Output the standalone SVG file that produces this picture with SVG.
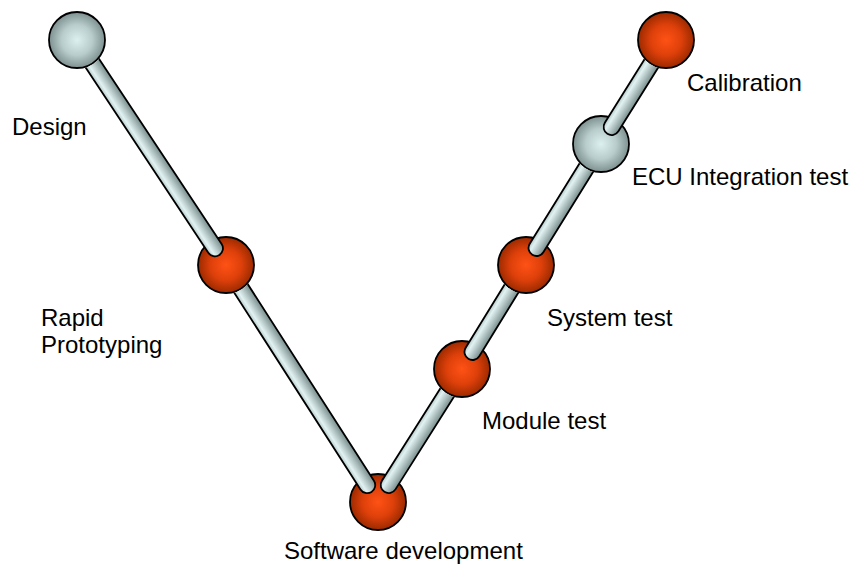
<svg xmlns="http://www.w3.org/2000/svg" width="850" height="564" viewBox="0 0 850 564">
  <style>
    .label { font-family: "Liberation Sans", Arial, sans-serif; font-size: 24px; fill: #000; }
    .ball { stroke: #000; stroke-width: 1.8; }
    .orange { fill: url(#gOrange); }
    .grey { fill: url(#gGrey); }
    .tube { fill: url(#gTube); stroke: #000; stroke-width: 1.8; }
  </style>
  <defs>
    <radialGradient id="gOrange" cx="50%" cy="50%" r="50%">
      <stop offset="0" stop-color="#ff5216"/>
      <stop offset="0.55" stop-color="#de400a"/>
      <stop offset="1" stop-color="#9c2a00"/>
    </radialGradient>
    <radialGradient id="gGrey" cx="50%" cy="50%" r="50%">
      <stop offset="0" stop-color="#dcf0f0"/>
      <stop offset="0.55" stop-color="#b8cccc"/>
      <stop offset="1" stop-color="#7e9090"/>
    </radialGradient>
    <linearGradient id="gTube" x1="0" y1="0" x2="0" y2="1">
      <stop offset="0" stop-color="#b4c8c8"/>
      <stop offset="0.25" stop-color="#e2f2f2"/>
      <stop offset="1" stop-color="#7a8e8e"/>
    </linearGradient>
    <!-- each tube slides under the ball at its upper end -->
    <mask id="mRapid" maskUnits="userSpaceOnUse" x="0" y="0" width="850" height="564">
      <rect width="850" height="564" fill="#fff"/><circle cx="226" cy="265" r="28.9" fill="#000"/>
    </mask>
    <mask id="mModule" maskUnits="userSpaceOnUse" x="0" y="0" width="850" height="564">
      <rect width="850" height="564" fill="#fff"/><circle cx="462" cy="369" r="28.9" fill="#000"/>
    </mask>
    <mask id="mSystem" maskUnits="userSpaceOnUse" x="0" y="0" width="850" height="564">
      <rect width="850" height="564" fill="#fff"/><circle cx="526" cy="265" r="28.9" fill="#000"/>
    </mask>
    <mask id="mEcu" maskUnits="userSpaceOnUse" x="0" y="0" width="850" height="564">
      <rect width="850" height="564" fill="#fff"/><circle cx="601" cy="144" r="28.9" fill="#000"/>
    </mask>
    <mask id="mCal" maskUnits="userSpaceOnUse" x="0" y="0" width="850" height="564">
      <rect width="850" height="564" fill="#fff"/><circle cx="666" cy="40" r="28.9" fill="#000"/>
    </mask>
    <mask id="mDesign" maskUnits="userSpaceOnUse" x="0" y="0" width="850" height="564">
      <rect width="850" height="564" fill="#fff"/><circle cx="77" cy="40" r="28.9" fill="#000"/>
    </mask>
  </defs>

  <!-- stages -->
  <g id="design">
    <circle class="ball grey" cx="77" cy="40" r="28"/>
    <text class="label" x="12" y="135">Design</text>
  </g>
  <g id="rapid-prototyping">
    <circle class="ball orange" cx="226" cy="265" r="28"/>
    <text class="label" x="41" y="326">Rapid</text>
    <text class="label" x="41" y="353">Prototyping</text>
  </g>
  <g id="software-development">
    <circle class="ball orange" cx="378" cy="502" r="28"/>
    <text class="label" x="284" y="559">Software development</text>
  </g>
  <g id="module-test">
    <circle class="ball orange" cx="462" cy="369" r="28"/>
    <text class="label" x="482" y="429">Module test</text>
  </g>
  <g id="system-test">
    <circle class="ball orange" cx="526" cy="265" r="28"/>
    <text class="label" x="547" y="326">System test</text>
  </g>
  <g id="ecu-integration-test">
    <circle class="ball grey" cx="601" cy="144" r="28"/>
    <text class="label" x="632" y="185">ECU Integration test</text>
  </g>
  <g id="calibration">
    <circle class="ball orange" cx="666" cy="40" r="28"/>
    <text class="label" x="687" y="91">Calibration</text>
  </g>

  <!-- tubes: rounded end rests on the lower ball, upper end hidden by the upper ball -->
  <g id="connectors">
    <g mask="url(#mRapid)">
      <g transform="translate(378,502) rotate(-122.68)"><rect class="tube" x="12" y="-8" width="270" height="16" rx="8"/></g>
    </g>
    <g mask="url(#mModule)">
      <g transform="translate(378,502) rotate(-57.72)"><rect class="tube" x="12" y="-8" width="146" height="16" rx="8"/></g>
    </g>
    <g mask="url(#mSystem)">
      <g transform="translate(462,369) rotate(-58.39)"><rect class="tube" x="12" y="-8" width="111" height="16" rx="8"/></g>
    </g>
    <g mask="url(#mEcu)">
      <g transform="translate(526,265) rotate(-58.21)"><rect class="tube" x="12" y="-8" width="131" height="16" rx="8"/></g>
    </g>
    <g mask="url(#mCal)">
      <g transform="translate(601,144) rotate(-57.99)"><rect class="tube" x="12" y="-8" width="111" height="16" rx="8"/></g>
    </g>
    <g mask="url(#mDesign)">
      <g transform="translate(226,265) rotate(-123.51)"><rect class="tube" x="12" y="-8" width="258" height="16" rx="8"/></g>
    </g>
  </g>
</svg>
